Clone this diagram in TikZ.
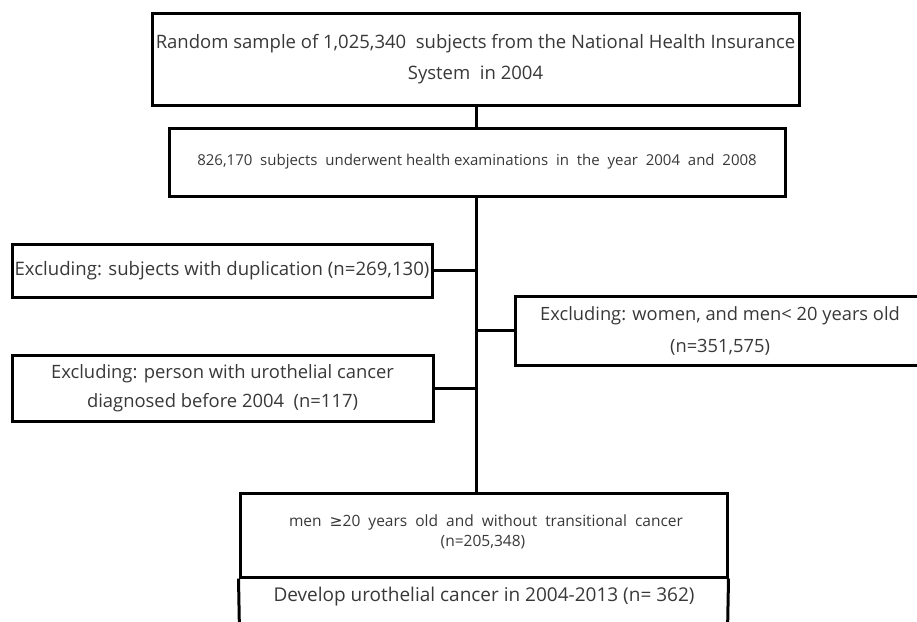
\documentclass[tikz,border=0pt]{standalone}
\usepackage{fontspec}
\setmainfont{Open Sans}
\newfontfamily\symf{DejaVu Sans}
\begin{document}
\begin{tikzpicture}[x=1pt,y=-1pt,
  bx/.style={draw=black, line width=3pt, inner sep=0pt, align=center, text=black!78},
  tx/.style={inner sep=0pt, align=center, text=black!78},
  ln/.style={line width=3pt}]
\useasboundingbox (0,0) rectangle (917,621);
\node[bx, minimum width=647pt, minimum height=92pt, font=\fontsize{18.5}{31}\selectfont] (top) at (475.5,59)
  {Random sample of 1,025,340 \ subjects from the National Health Insurance\\System \ in 2004};
\node[bx, minimum width=616pt, minimum height=68pt, font=\fontsize{15}{18}\selectfont] (b2) at (477,162)
  {826,170 \ subjects \ underwent health examinations \ in \ the \ year \ 2004 \ and \ 2008};
\node[bx, minimum width=420pt, minimum height=53pt, font=\fontsize{18.6}{29}\selectfont] (l1) at (222,270.5)
  {Excluding: subjects with duplication (n=269,130)};
\node[bx, minimum width=421pt, minimum height=66pt, font=\fontsize{18.4}{29}\selectfont] (l2) at (222.5,388)
  {Excluding: person with urothelial cancer\\diagnosed before 2004 \ (n=117)};
\node[bx, minimum width=410pt, minimum height=69pt, font=\fontsize{18.3}{32}\selectfont] (r) at (720,330.5)
  {Excluding: women, and men< 20 years old\\(n=351,575)};
\node[bx, minimum width=487pt, minimum height=84pt] (mid) at (483.5,535) {};
\node[tx, font=\fontsize{15.5}{18}\selectfont] (midt) at (486,522)
  {men \ {\symf ≥}20 \ years \ old \ and \ without \ transitional \ cancer};
\node[tx, font=\fontsize{15.5}{18}\selectfont] (midn) at (483,542) {(n=205,348)};
\node[tx, font=\fontsize{19}{22}\selectfont] (dev) at (484,597)
  {Develop urothelial cancer in 2004-2013 (n= 362)};
\coordinate (midbl) at (240,660);
\coordinate (midbr) at (727,660);
\draw[ln] (mid.south west) -- (midbl);
\draw[ln] (mid.south east) -- (midbr);
\coordinate (vtop) at (476,196);
\coordinate (vbot) at (476,493);
\draw[ln] (top.south -| vtop) -- (b2.north -| vtop);
\draw[ln] (b2.south -| vtop) -- (mid.north -| vbot);
\draw[ln] (l1.east) -- (l1.east -| vtop);
\draw[ln] (l2.east) -- (l2.east -| vtop);
\draw[ln] (r.west) -- (r.west -| vtop);
\end{tikzpicture}
\end{document}
